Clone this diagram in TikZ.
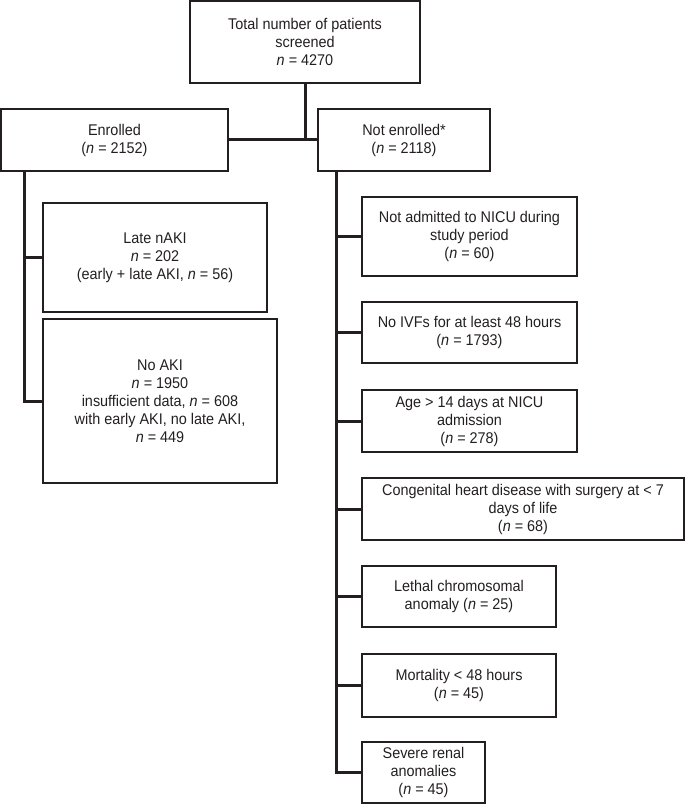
\documentclass[tikz,border=0pt]{standalone}
\usepackage{fontspec}
\setmainfont[FakeStretch=0.93]{Liberation Sans}
\definecolor{ink}{HTML}{231F20}
\begin{document}
\begin{tikzpicture}[x=1pt,y=-1pt,
  box/.style={draw=ink,line width=1.9pt,inner sep=0pt,align=center,text=ink,
    font=\fontsize{15.5}{18}\selectfont},
  link/.style={draw=ink,line width=3pt}]
\useasboundingbox (0,0) rectangle (685,805);
\newcommand{\bx}[6]{% name, x1,y1,x2,y2, text
  \node[box,minimum width={#4-#2},minimum height={#5-#3}] (#1) at ({(#2+#4)/2},{(#3+#5)/2}) {#6};}
\bx{top}{190}{1}{420}{83}{Total number of patients\\screened\\\textit{n} = 4270}
\bx{enr}{1}{109}{228}{171}{Enrolled\\(\textit{n} = 2152)}
\bx{nenr}{318}{109}{490}{171}{Not enrolled*\\(\textit{n} = 2118)}
\bx{late}{43}{203}{267}{312}{Late nAKI\\\textit{n} = 202\\(early + late AKI, \textit{n} = 56)}
\bx{noaki}{43}{319}{277}{483}{No AKI\\\textit{n} = 1950\\insufficient data, \textit{n} = 608\\with early AKI, no late AKI,\\\textit{n} = 449}
\bx{r1}{362}{197}{577}{276}{Not admitted to NICU during\\study period\\(\textit{n} = 60)}
\bx{r2}{362}{302}{577}{363}{No IVFs for at least 48 hours\\(\textit{n} = 1793)}
\bx{r3}{362}{390}{577}{452}{Age > 14 days at NICU\\admission\\(\textit{n} = 278)}
\bx{r4}{362}{478}{684}{540}{Congenital heart disease with surgery at < 7\\days of life\\(\textit{n} = 68)}
\bx{r5}{362}{566}{556}{627}{Lethal chromosomal\\anomaly (\textit{n} = 25)}
\bx{r6}{362}{654}{556}{717}{Mortality < 48 hours\\(\textit{n} = 45)}
\bx{r7}{362}{742}{485}{803}{Severe renal\\anomalies\\(\textit{n} = 45)}
\coordinate (lt) at (24,171);
\coordinate (rt) at (336,171);
\draw[link] (top.south) -- (top.south |- enr.east);
\draw[link] (enr.east) -- (nenr.west);
\draw[link] (lt) |- (late.west);
\draw[link] (lt) |- (noaki.west);
\foreach \r in {r1,r2,r3,r4,r5,r6,r7}{\draw[link] (rt) |- (\r.west);}
\end{tikzpicture}
\end{document}
